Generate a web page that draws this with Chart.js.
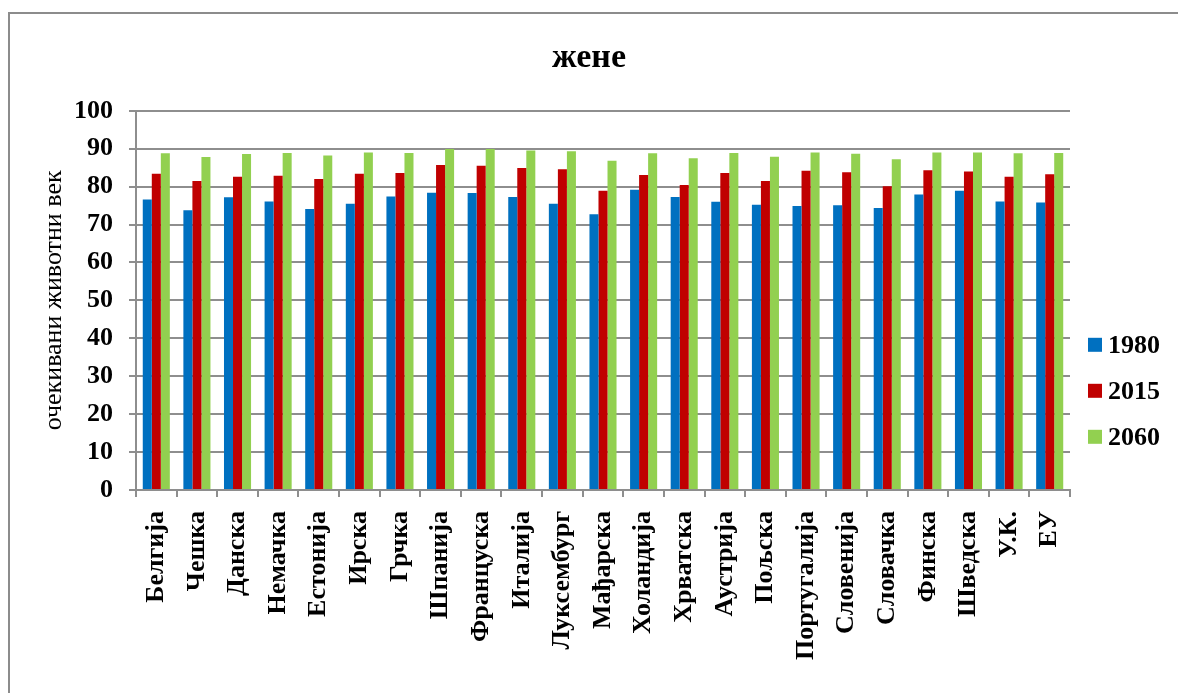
<!DOCTYPE html>
<html>
<head>
<meta charset="utf-8">
<script src="https://cdn.jsdelivr.net/npm/chart.js@4.4.1/dist/chart.umd.min.js"></script>
<style>
  html, body { margin: 0; padding: 0; background: #ffffff; }
  #wrap { position: relative; width: 1178px; height: 693px; }
  canvas { display: block; }
</style>
</head>
<body>
<div id="wrap"><canvas id="chart" width="1178" height="693"></canvas></div>
<script>
// Очекивани животни век жена по земљама ЕУ
const countries = ['Белгија', 'Чешка', 'Данска', 'Немачка', 'Естонија', 'Ирска', 'Грчка', 'Шпанија',
  'Француска', 'Италија', 'Луксембург', 'Мађарска', 'Холандија', 'Хрватска', 'Аустрија', 'Пољска',
  'Португалија', 'Словенија', 'Словачка', 'Финска', 'Шведска', 'У.К.', 'ЕУ'];

const years = ['1980', '2015', '2060'];

const values1980 = [76.6, 73.8, 77.2, 76.1, 74.1, 75.5, 77.4, 78.4, 78.3, 77.3, 75.5, 72.7,
  79.2, 77.3, 76.0, 75.2, 74.9, 75.1, 74.4, 77.9, 78.9, 76.1, 75.8];
const values2015 = [83.4, 81.5, 82.6, 82.9, 82.0, 83.4, 83.6, 85.7, 85.5, 84.9, 84.6, 78.9,
  83.1, 80.4, 83.6, 81.5, 84.2, 83.8, 80.1, 84.3, 84.0, 82.6, 83.3];
const values2060 = [88.8, 87.8, 88.6, 88.9, 88.2, 89.0, 88.9, 89.9, 89.9, 89.5, 89.3, 86.8,
  88.8, 87.5, 88.9, 87.9, 89.0, 88.7, 87.2, 89.0, 89.0, 88.8, 88.9];

const yTicks = [0, 10, 20, 30, 40, 50, 60, 70, 80, 90, 100];

const SERIF = '"Liberation Serif", "Times New Roman", serif';
const GRID = '#8e8e8e';

// Outer frame of the chart
const framePlugin = {
  id: 'frame',
  beforeDraw(chart) {
    const ctx = chart.ctx;
    ctx.save();
    ctx.fillStyle = '#ffffff';
    ctx.fillRect(0, 0, chart.width, chart.height);
    ctx.strokeStyle = '#8c8c8c';
    ctx.lineWidth = 2;
    ctx.strokeRect(9, 13, chart.width + 20, chart.height + 20);
    ctx.restore();
  }
};

// Vertical legend to the right of the plot
const sideLegend = {
  id: 'sideLegend',
  afterDraw(chart) {
    const ctx = chart.ctx;
    const area = chart.chartArea;
    const x0 = area.right + 18;
    const yc = area.top + 280;
    const step = 46;
    ctx.save();
    ctx.font = 'bold 26px ' + SERIF;
    ctx.textBaseline = 'middle';
    ctx.textAlign = 'left';
    chart.data.datasets.forEach((ds, i) => {
      const y = yc + (i - 1) * step;
      ctx.fillStyle = ds.backgroundColor;
      ctx.fillRect(x0, y - 7, 14, 14);
      ctx.fillStyle = '#000000';
      ctx.fillText(ds.label, x0 + 20, y + 1);
    });
    ctx.restore();
  }
};

new Chart(document.getElementById('chart'), {
  type: 'bar',
  data: {
    labels: countries,
    datasets: [
      { label: years[0], data: values1980, backgroundColor: '#0070c0' },
      { label: years[1], data: values2015, backgroundColor: '#c00000' },
      { label: years[2], data: values2060, backgroundColor: '#92d050' }
    ]
  },
  options: {
    responsive: false,
    animation: false,
    devicePixelRatio: 1,
    layout: { padding: { left: 0, right: 0, top: 0, bottom: 0 } },
    datasets: { bar: { categoryPercentage: 3 / 4.5, barPercentage: 1.0, borderWidth: 0 } },
    plugins: {
      legend: { display: false },
      tooltip: { enabled: false },
      title: {
        display: true,
        text: 'жене',
        color: '#000000',
        font: { family: SERIF, size: 34, weight: 'bold', lineHeight: 1.2 },
        padding: { top: 38, bottom: 32 }
      }
    },
    scales: {
      x: {
        offset: true,
        grid: { display: true, drawOnChartArea: false, drawTicks: true, tickLength: 7, color: GRID, lineWidth: 2, offset: true },
        border: { display: true, color: GRID, width: 2 },
        ticks: {
          autoSkip: false,
          maxRotation: 90,
          minRotation: 90,
          padding: 14,
          color: '#000000',
          font: { family: SERIF, size: 26, weight: 'bold' }
        },
        afterFit(scale) { scale.height = 203; }
      },
      y: {
        min: 0,
        max: 100,
        afterBuildTicks(scale) { scale.ticks = yTicks.map(v => ({ value: v })); },
        grid: { color: GRID, lineWidth: 2, tickLength: 7, drawTicks: true },
        border: { display: true, color: GRID, width: 2 },
        ticks: {
          padding: 16,
          color: '#000000',
          font: { family: SERIF, size: 26, weight: 'bold' }
        },
        title: {
          display: true,
          text: 'очекивани животни век',
          color: '#000000',
          font: { family: SERIF, size: 26, weight: 'normal', lineHeight: 1.2 },
          padding: { top: 39, bottom: 0 }
        },
        afterFit(scale) { scale.width = 136; }
      },
      // empty strip on the right that holds the legend
      legendSpace: {
        type: 'linear',
        position: 'right',
        display: true,
        grid: { display: false, drawTicks: false },
        border: { display: false },
        ticks: { display: false },
        afterFit(scale) { scale.width = 108; }
      }
    }
  },
  plugins: [framePlugin, sideLegend]
});
</script>
</body>
</html>
